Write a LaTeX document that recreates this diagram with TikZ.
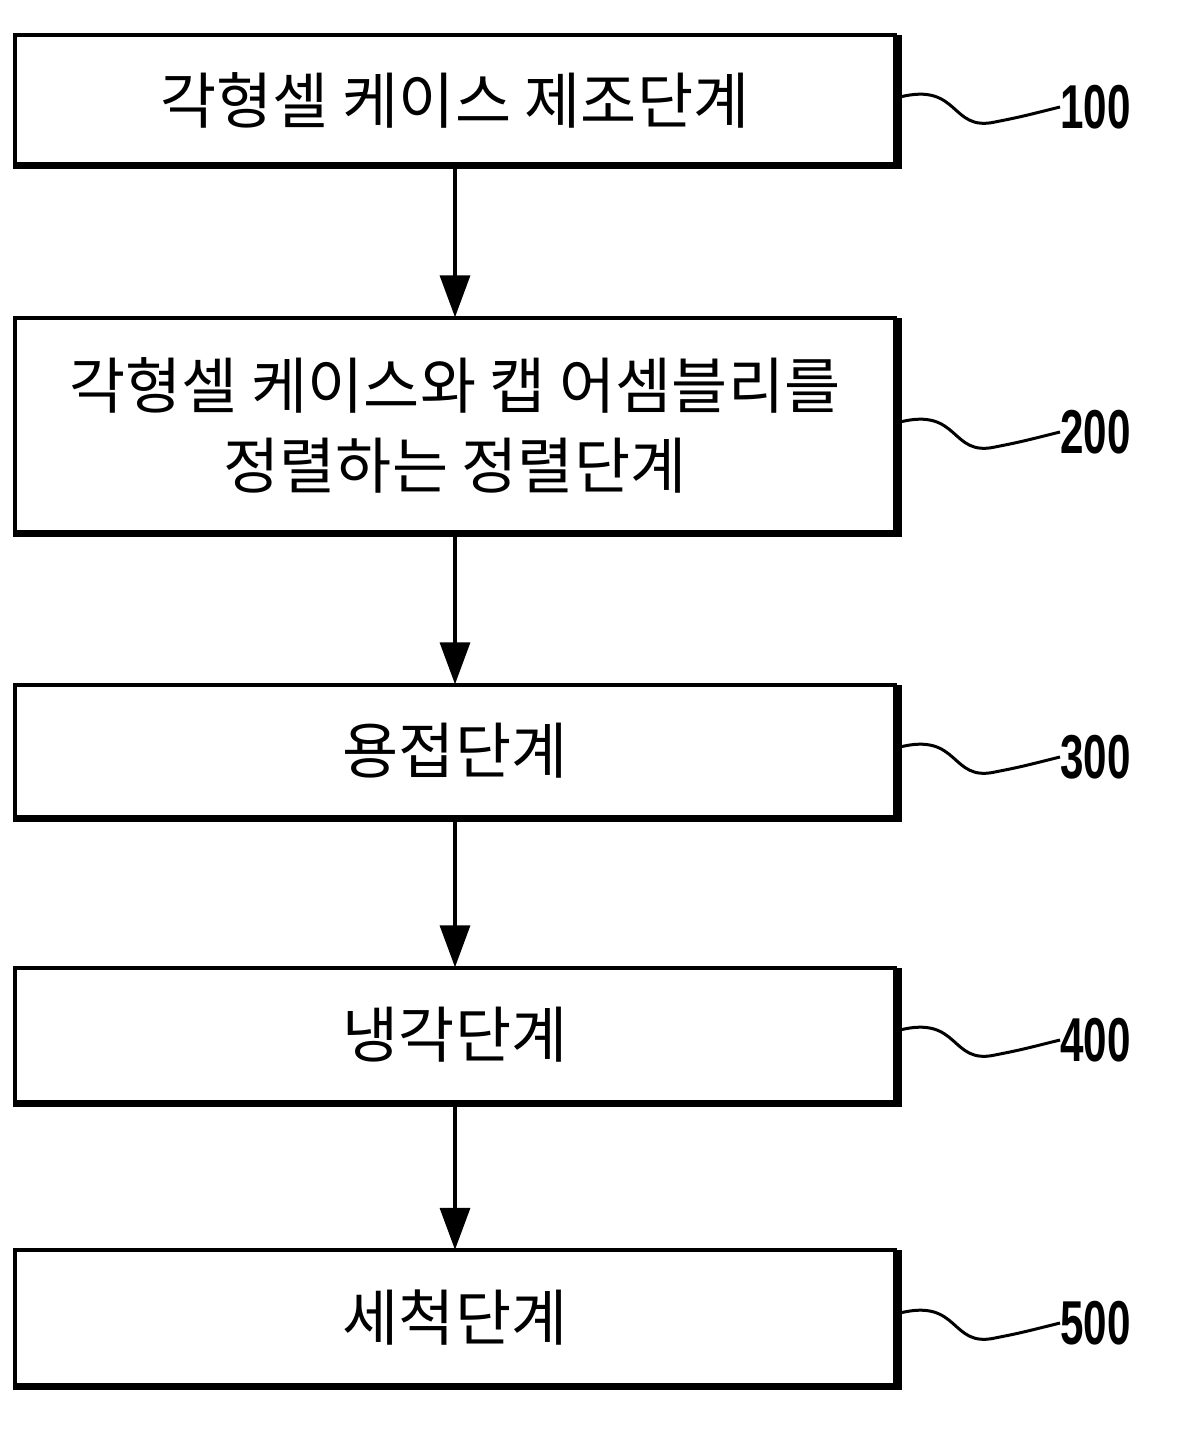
\documentclass[tikz,border=0pt]{standalone}
\usepackage{fontspec}
\newfontfamily\kor{Noto Sans CJK KR}
\newfontfamily\numf{Liberation Sans}
\usetikzlibrary{arrows.meta}
\tikzset{
  stage/.style={draw=none,minimum width=880pt,inner sep=0pt,font=\kor\fontsize{61pt}{80pt}\selectfont,align=center},
  flow/.style={line width=3.5pt,-{Triangle[length=42pt,width=30pt]}},
  ref/.style={font=\numf\bfseries\fontsize{62pt}{62pt}\selectfont,xscale=0.68,inner sep=0pt}
}
\newcommand{\stepbox}[2]{% top, bottom
  \draw[line width=3.5pt] (15,#1) rectangle (895,#2);
  \draw[line width=7pt] (13,#2) -- (898,#2) -- (898,#1);
}
\begin{document}
\begin{tikzpicture}[x=1pt,y=-1pt]
  \useasboundingbox (0,0) rectangle (1200,1455);
  %단계 상자
  \stepbox{35}{166}
  \stepbox{318}{533}
  \stepbox{685}{818}
  \stepbox{968}{1103}
  \stepbox{1250}{1386}
  \node[stage,minimum height=131pt] (s1) at (455,100) {각형셀 케이스 제조단계};
  \node[stage,minimum height=215pt] (s2) at (455,425) {각형셀 케이스와 캡 어셈블리를\\정렬하는 정렬단계};
  \node[stage,minimum height=133pt] (s3) at (455,751) {용접단계};
  \node[stage,minimum height=135pt] (s4) at (455,1035) {냉각단계};
  \node[stage,minimum height=136pt] (s5) at (455,1318) {세척단계};
  %화살표
  \draw[flow] (s1.south) -- (s2.north);
  \draw[flow] (s2.south) -- (s3.north);
  \draw[flow] (s3.south) -- (s4.north);
  \draw[flow] (s4.south) -- (s5.north);
  %참조번호
  \foreach \y/\t in {107/100,432/200,757/300,1040/400,1323/500}{
    \node[ref,anchor=west] (r\t) at (1060,\y) {\t};
    \draw[line width=3pt] (900,\y-10) .. controls (960,\y-25) and (950,\y+25) .. (995,\y+15)
      .. controls (1020,\y+10) .. (r\t.west);
  }
\end{tikzpicture}
\end{document}
